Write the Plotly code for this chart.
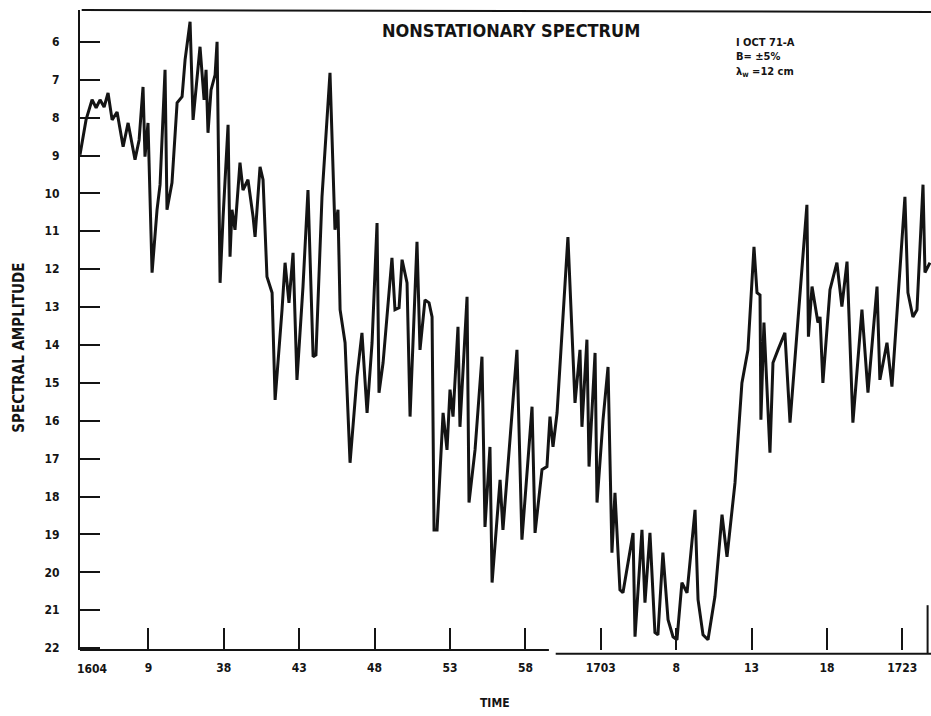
import plotly.graph_objects as go

# Time axis in minutes after 16:04 (tick positions every 5 minutes)
time_min = [
    0.46, 0.86, 1.26, 1.53, 1.79, 2.06, 2.32, 2.59, 2.92, 3.32, 3.65, 4.11, 4.38, 4.64,
    4.77, 4.97, 5.24, 5.57, 5.77, 6.10, 6.23, 6.56, 6.90, 7.23, 7.43, 7.76, 7.96, 8.22,
    8.42, 8.69, 8.82, 8.95, 9.15, 9.42, 9.55, 9.75, 9.95, 10.28, 10.41, 10.54, 10.74,
    11.07, 11.27, 11.60, 11.94, 12.07, 12.40, 12.60, 12.86, 13.20, 13.40, 13.86, 14.06,
    14.32, 14.59, 14.85, 15.25, 15.58, 15.92, 16.11, 16.51, 17.04, 17.37, 17.57, 17.71,
    18.04, 18.37, 18.83, 19.16, 19.50, 19.83, 20.16, 20.29, 20.56, 21.15, 21.35, 21.62,
    21.82, 22.15, 22.35, 22.81, 23.01, 23.34, 23.61, 23.81, 23.94, 24.14, 24.54, 24.80,
    25.00, 25.20, 25.53, 25.66, 26.13, 26.26, 26.66, 27.12, 27.32, 27.65, 27.79, 28.32,
    28.51, 29.44, 29.77, 30.44, 30.64, 31.10, 31.43, 31.63, 31.83, 32.10, 32.82, 33.29,
    33.62, 33.75, 34.08, 34.22, 34.62, 34.75, 35.15, 35.48, 35.74, 35.94, 36.27, 36.47,
    37.14, 37.27, 37.73, 37.93, 38.26, 38.59, 38.79, 39.12, 39.46, 39.79, 40.05, 40.38,
    40.72, 41.25, 41.45, 41.78, 42.11, 42.57, 43.04, 43.37, 43.90, 44.36, 44.76, 45.16,
    45.36, 45.56, 45.62, 45.82, 46.22, 46.42, 46.75, 47.21, 47.55, 48.08, 48.67, 48.77,
    49.01, 49.40, 49.54, 49.73, 50.20, 50.66, 50.99, 51.33, 51.72, 52.32, 52.72, 53.32,
    53.51, 53.98, 54.31, 55.17, 55.37, 55.70, 55.97, 56.37, 56.50, 56.83,
]

# Spectral amplitude (axis runs downward from 6 to 22)
amplitude = [
    8.98, 8.06, 7.53, 7.74, 7.53, 7.72, 7.35, 8.06, 7.85, 8.77, 8.14, 9.11, 8.59, 7.19,
    9.03, 8.14, 12.09, 10.43, 9.77, 6.74, 10.43, 9.72, 7.61, 7.45, 6.47, 5.47, 8.06, 7.00,
    6.13, 7.53, 6.74, 8.40, 7.27, 6.87, 6.00, 12.36, 10.62, 8.19, 11.67, 10.43, 10.96,
    9.19, 9.91, 9.64, 10.62, 11.15, 9.30, 9.64, 12.20, 12.62, 15.45, 13.07, 11.83,
    12.89, 11.57, 14.92, 12.46, 9.91, 14.31, 14.26, 10.09, 6.82, 10.96, 10.43, 13.07,
    13.94, 17.11, 14.84, 13.68, 15.79, 13.94, 10.78, 15.26, 14.47, 11.70, 13.07, 13.02,
    11.75, 12.36, 15.89, 11.28, 14.13, 12.81, 12.89, 13.26, 18.88, 18.88, 15.79, 16.77,
    15.18, 15.89, 13.52, 16.16, 12.73, 18.16, 16.77, 14.31, 18.80, 16.69, 20.27, 17.56,
    18.88, 14.13, 19.14, 15.63, 18.96, 17.29, 17.21, 15.89, 16.69, 15.79, 11.15, 15.53,
    14.13, 16.16, 13.86, 17.21, 14.21, 18.16, 15.97, 14.58, 19.48, 17.90, 20.46, 20.54,
    18.96, 21.70, 18.88, 20.80, 18.96, 21.59, 21.65, 19.48, 21.25, 21.70, 21.78, 20.27,
    20.54, 18.35, 20.72, 21.65, 21.78, 20.64, 18.48, 19.59, 17.64, 15.00, 14.13, 11.41,
    12.62, 12.68, 15.97, 13.41, 16.84, 14.47, 14.13, 13.68, 16.05, 13.26, 10.30, 13.78,
    12.46, 13.41, 13.26, 15.00, 12.54, 11.83, 12.99, 11.80, 16.05, 13.07, 15.26, 12.46,
    14.92, 13.94, 15.10, 10.09, 12.62, 13.26, 13.07, 9.77, 12.09, 11.83,
]

x_tick_vals = [5, 10, 15, 20, 25, 30, 35, 40, 45, 50, 55]
x_tick_text = ["9", "38", "43", "48", "53", "58", "1703", "8", "13", "18", "1723"]
y_tick_vals = list(range(6, 23))

FONT = "DejaVu Sans Condensed, Liberation Sans Narrow, DejaVu Sans, sans-serif"
INK = "#141414"

fig = go.Figure()
fig.add_trace(go.Scatter(
    x=time_min, y=amplitude, mode="lines",
    line=dict(color=INK, width=3), showlegend=False, hoverinfo="skip",
))

fig.update_layout(
    width=931, height=716,
    margin=dict(l=80, r=0, t=10, b=66),
    paper_bgcolor="white", plot_bgcolor="white",
    xaxis=dict(
        range=[0.46, 56.9], showgrid=False, zeroline=False, showline=False,
        tickmode="array", tickvals=x_tick_vals, ticktext=x_tick_text,
        ticks="inside", ticklen=22, tickwidth=2, tickcolor=INK,
        tickfont=dict(family=FONT, size=12, color=INK, weight="bold"),
        ticklabelstandoff=9,
    ),
    yaxis=dict(
        range=[22.05, 5.16], showgrid=False, zeroline=False,
        showline=True, linecolor=INK, linewidth=2,
        tickmode="array", tickvals=y_tick_vals,
        ticks="inside", ticklen=20, tickwidth=2, tickcolor=INK,
        tickfont=dict(family=FONT, size=12, color=INK, weight="bold"),
        ticklabelstandoff=16,
    ),
)

# frame: bottom axis (with a small break), top border, right corner stub
axis_line = dict(color=INK, width=2)
fig.add_shape(type="line", xref="paper", yref="paper", x0=0, x1=0.551, y0=0, y1=0, line=axis_line)
fig.add_shape(type="line", xref="paper", yref="paper", x0=0.559, x1=1, y0=-0.006, y1=-0.006, line=axis_line)
fig.add_shape(type="line", xref="paper", yref="paper", x0=0.002, x1=1, y0=1, y1=0.997, line=axis_line)
fig.add_shape(type="line", xref="paper", yref="paper", x0=0.996, x1=0.996, y0=-0.006, y1=0.07, line=axis_line)

def note(text, x, y, size, xanchor="left", yanchor="middle", angle=0, align="left"):
    fig.add_annotation(
        text=text, xref="paper", yref="paper", x=x, y=y, showarrow=False,
        xanchor=xanchor, yanchor=yanchor, textangle=angle, align=align,
        font=dict(family=FONT, size=size, color=INK, weight="bold"),
    )

note("1604", -0.006, -0.029, 12, xanchor="left")
note("NONSTATIONARY SPECTRUM", 0.507, 0.968, 18, xanchor="center", align="center")
note("I OCT 71-A<br>B= ±5%<br>λ<sub>w</sub> =12 cm", 0.768, 0.962, 11, xanchor="left", yanchor="top")
note("TIME", 0.488, -0.083, 12, xanchor="center", align="center")
note("SPECTRAL AMPLITUDE", -0.072, 0.472, 15, xanchor="center", angle=-90, align="center")

fig.write_html("out.html")
